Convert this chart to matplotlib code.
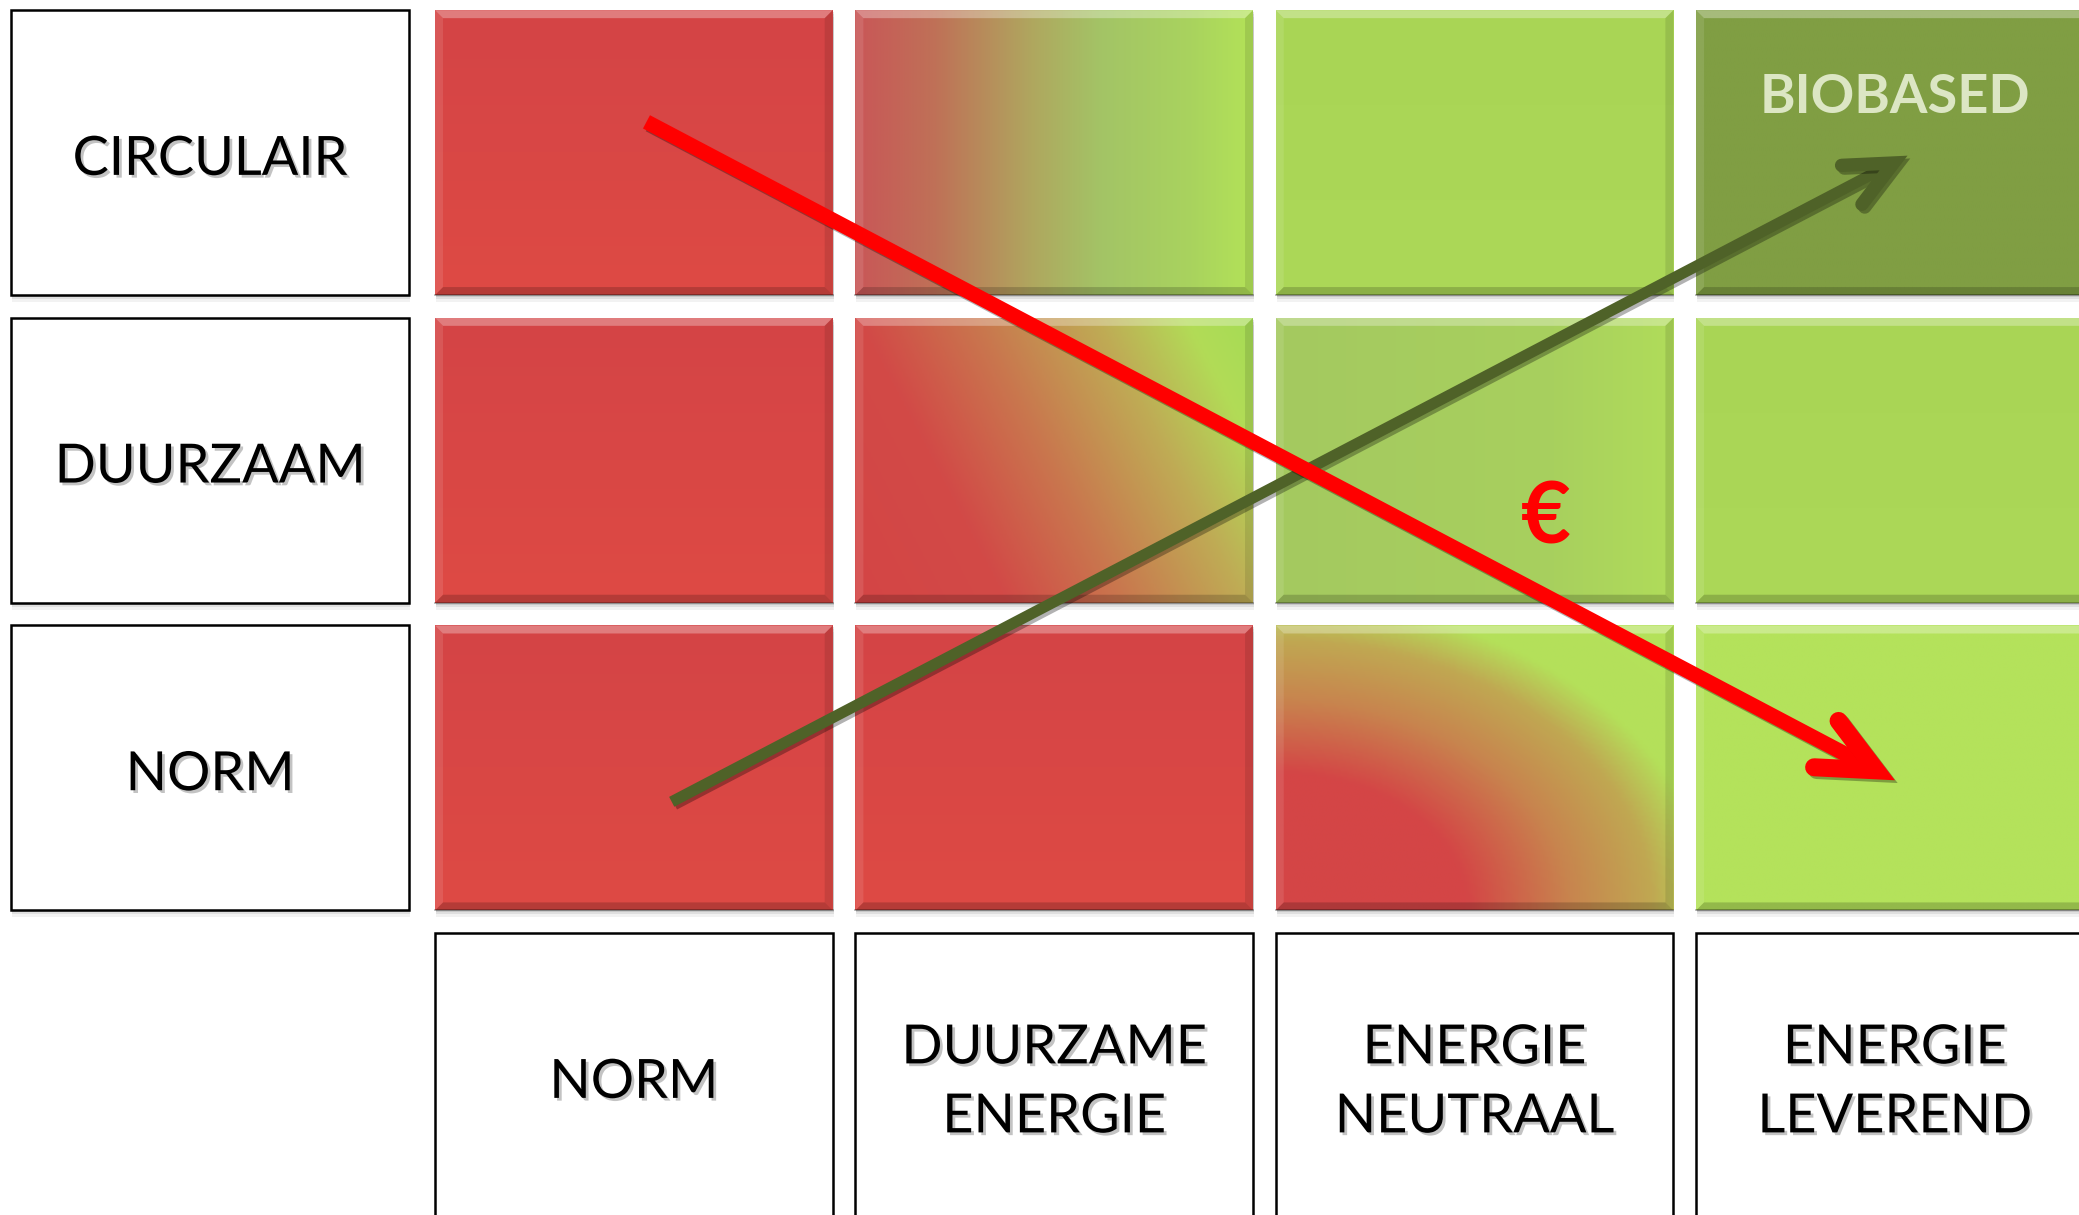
"""Matrix duurzaamheid vs energie, met kosten- en biobased-pijl."""

import numpy as np
import matplotlib

matplotlib.use("Agg")
import matplotlib.pyplot as plt
import matplotlib.patheffects as pe
from matplotlib.colors import LinearSegmentedColormap
from matplotlib.patches import Polygon, Rectangle

plt.rcParams["font.family"] = ["Lato", "DejaVu Sans"]

# --- gegevens ---------------------------------------------------------------
RIJEN = ["CIRCULAIR", "DUURZAAM", "NORM"]
KOLOMMEN = ["NORM", "DUURZAME\nENERGIE", "ENERGIE\nNEUTRAAL", "ENERGIE\nLEVEREND"]

# vulling per cel: rij (boven -> onder), kolom (links -> rechts)
VULLING = [
    ["rood", "horizontaal", "groen", "donkergroen"],
    ["rood", "diagonaal", "groen_mat", "groen"],
    ["rood", "rood", "radiaal", "groen_fel"],
]

# kleurverlopen: lijst van (positie, kleur)
VERLOPEN = {
    "rood": [(0.0, "#D44446"), (1.0, "#DE4A44")],
    "groen": [(0.0, "#A9D555"), (1.0, "#ACD858")],
    "groen_fel": [(0.0, "#B4E25B"), (1.0, "#B4E25B")],
    "groen_mat": [(0.0, "#A4C960"), (0.7, "#A8D05E"), (1.0, "#B0DC5A")],
    "donkergroen": [(0.0, "#809E43"), (1.0, "#809E43")],
    "horizontaal": [(0.0, "#C95757"), (0.2, "#BF7157"), (0.45, "#AFA85F"),
                    (0.62, "#A3C466"), (0.85, "#A9D35E"), (1.0, "#B3E258")],
    "diagonaal": [(0.0, "#D44545"), (0.28, "#D24A47"), (0.5, "#C9784E"),
                  (0.72, "#BFAC55"), (0.88, "#B2DB57"), (1.0, "#A6DC55")],
    "radiaal": [(0.0, "#D44546"), (0.34, "#D44646"), (0.52, "#C8844E"),
                (0.67, "#C0A852"), (0.77, "#B4E05A"), (1.0, "#B4E25B")],
}

# pijlen in cel-eenheden (kolom, rij)
PIJL_KOSTEN = [(0.03, -0.10), (3.00, 2.04)]
PIJL_BIOBASED = [(0.09, 2.11), (3.03, 0.01)]
EURO_POS = (2.17, 1.19)
BIOBASED_POS = (3.0, -0.18)
RIJLABEL_KOLOM = -1.008

# --- opmaak -----------------------------------------------------------------
BREEDTE, HOOGTE = 2079, 1215
PX = 317 * BREEDTE / 1568   # pixels per kolom
PY = 232 * HOOGTE / 916     # pixels per rij
XLIM = (-1.508, 3.438)
YLIM = (3.453, -0.496)
HW, HH = 0.473, 0.463
BEVEL = 8
TEKST_DY = 0.022


def kleurvlak(soort, n=160):
    cmap = LinearSegmentedColormap.from_list(soort, VERLOPEN[soort])
    u = np.linspace(0, 1, n)[None, :].repeat(n, axis=0)
    v = np.linspace(1, 0, n)[:, None].repeat(n, axis=1)
    if soort == "horizontaal" or soort == "groen_mat":
        t = u
    elif soort == "diagonaal":
        t = np.clip((0.8 * u + 0.3 * v) / 1.1, 0, 1)
    elif soort == "radiaal":
        t = np.clip(np.sqrt(u ** 2 + v ** 2) / 1.42, 0, 1)
    else:
        t = 1 - v
    return cmap(t)[..., :3]


def schaduw(ax, x0, y0, w, h):
    for stap, alpha in [(2, 0.10), (4, 0.08), (7, 0.05)]:
        ax.add_patch(Rectangle((x0 + 1 / PX, y0 + stap / PY), w, h,
                               color="black", alpha=alpha, lw=0, zorder=1))


def bevel(ax, x0, y0, x1, y1):
    bx, by = BEVEL / PX, BEVEL / PY
    delen = [
        ([(x0, y0), (x1, y0), (x1 - bx, y0 + by), (x0 + bx, y0 + by)], "white", 0.30),
        ([(x0, y0), (x0 + bx, y0 + by), (x0 + bx, y1 - by), (x0, y1)], "white", 0.10),
        ([(x1, y0), (x1 - bx, y0 + by), (x1 - bx, y1 - by), (x1, y1)], "black", 0.10),
        ([(x0, y1), (x1, y1), (x1 - bx, y1 - by), (x0 + bx, y1 - by)], "black", 0.18),
    ]
    for punten, kleur, alpha in delen:
        ax.add_patch(Polygon(punten, closed=True, color=kleur, alpha=alpha, lw=0, zorder=3))
    ax.plot([x0, x1], [y1, y1], color="black", alpha=0.35, lw=1.2, zorder=3)


def labelvak(ax, x, y, tekst):
    schaduw(ax, x - HW, y - HH, 2 * HW, 2 * HH)
    ax.add_patch(Rectangle((x - HW, y - HH), 2 * HW, 2 * HH, facecolor="white",
                           edgecolor="black", lw=1.8, zorder=2))
    ax.text(x, y + TEKST_DY, tekst, ha="center", va="center", fontsize=39,
            linespacing=1.5, color="black", zorder=4,
            path_effects=[pe.withSimplePatchShadow(offset=(2, -2), shadow_rgbFace="#555555",
                                                   alpha=0.35)])


def pijl(ax, start, eind, kleur, lw, armlengte, hoek):
    (xs, ys), (xe, ye) = start, eind
    schaduw_fx = [pe.SimpleLineShadow(offset=(2, -2), alpha=0.3), pe.Normal()]
    richting = np.arctan2((ys - ye) * PY, (xs - xe) * PX)
    # miter-punt valt buiten het hoekpunt: hoekpunt terugleggen
    kop_lw = lw * 1.2
    miter = (kop_lw * 100 / 72) / 2 / np.sin(np.radians(hoek))
    xv = xe + np.cos(richting) * miter / PX
    yv = ye + np.sin(richting) * miter / PY
    inkort = lw * 1.2
    xe2 = xv + np.cos(richting) * inkort / PX
    ye2 = yv + np.sin(richting) * inkort / PY
    ax.plot([xs, xe2], [ys, ye2], color=kleur, lw=lw, solid_capstyle="butt",
            zorder=6, path_effects=schaduw_fx)
    armen = []
    for teken in (1, -1):
        a = richting + teken * np.radians(hoek)
        armen.append((xv + np.cos(a) * armlengte / PX, yv + np.sin(a) * armlengte / PY))
    ax.plot([armen[0][0], xv, armen[1][0]], [armen[0][1], yv, armen[1][1]], color=kleur,
            lw=kop_lw, solid_capstyle="round", solid_joinstyle="miter", zorder=6,
            path_effects=schaduw_fx)


def main():
    fig = plt.figure(figsize=(BREEDTE / 100, HOOGTE / 100), dpi=100)
    ax = fig.add_axes([0, 0, 1, 1])
    ax.set_xlim(*XLIM)
    ax.set_ylim(*YLIM)
    ax.axis("off")

    for r, rij in enumerate(VULLING):
        for k, soort in enumerate(rij):
            x0, x1, y0, y1 = k - HW, k + HW, r - HH, r + HH
            schaduw(ax, x0, y0, 2 * HW, 2 * HH)
            ax.imshow(kleurvlak(soort), extent=(x0, x1, y1, y0), origin="upper",
                      aspect="auto", interpolation="bilinear", zorder=2)
            bevel(ax, x0, y0, x1, y1)

    for r, naam in enumerate(RIJEN):
        labelvak(ax, RIJLABEL_KOLOM, r, naam)
    for k, naam in enumerate(KOLOMMEN):
        labelvak(ax, k, len(RIJEN), naam)

    ax.text(*BIOBASED_POS, "BIOBASED", ha="center", va="center", fontsize=39,
            fontweight="bold", color="#DCE6C4", zorder=4)

    pijl(ax, PIJL_BIOBASED[0], PIJL_BIOBASED[1], "#4F6228", 8, 52, 25)
    pijl(ax, PIJL_KOSTEN[0], PIJL_KOSTEN[1], "#FF0000", 10.8, 62, 25)

    ax.text(*EURO_POS, "€", ha="center", va="center", fontsize=62, fontweight="bold",
            color="#FF0000", zorder=7)

    ax.set_xlim(*XLIM)
    ax.set_ylim(*YLIM)
    fig.savefig("out.png", dpi=100)
    plt.close(fig)


if __name__ == "__main__":
    main()
